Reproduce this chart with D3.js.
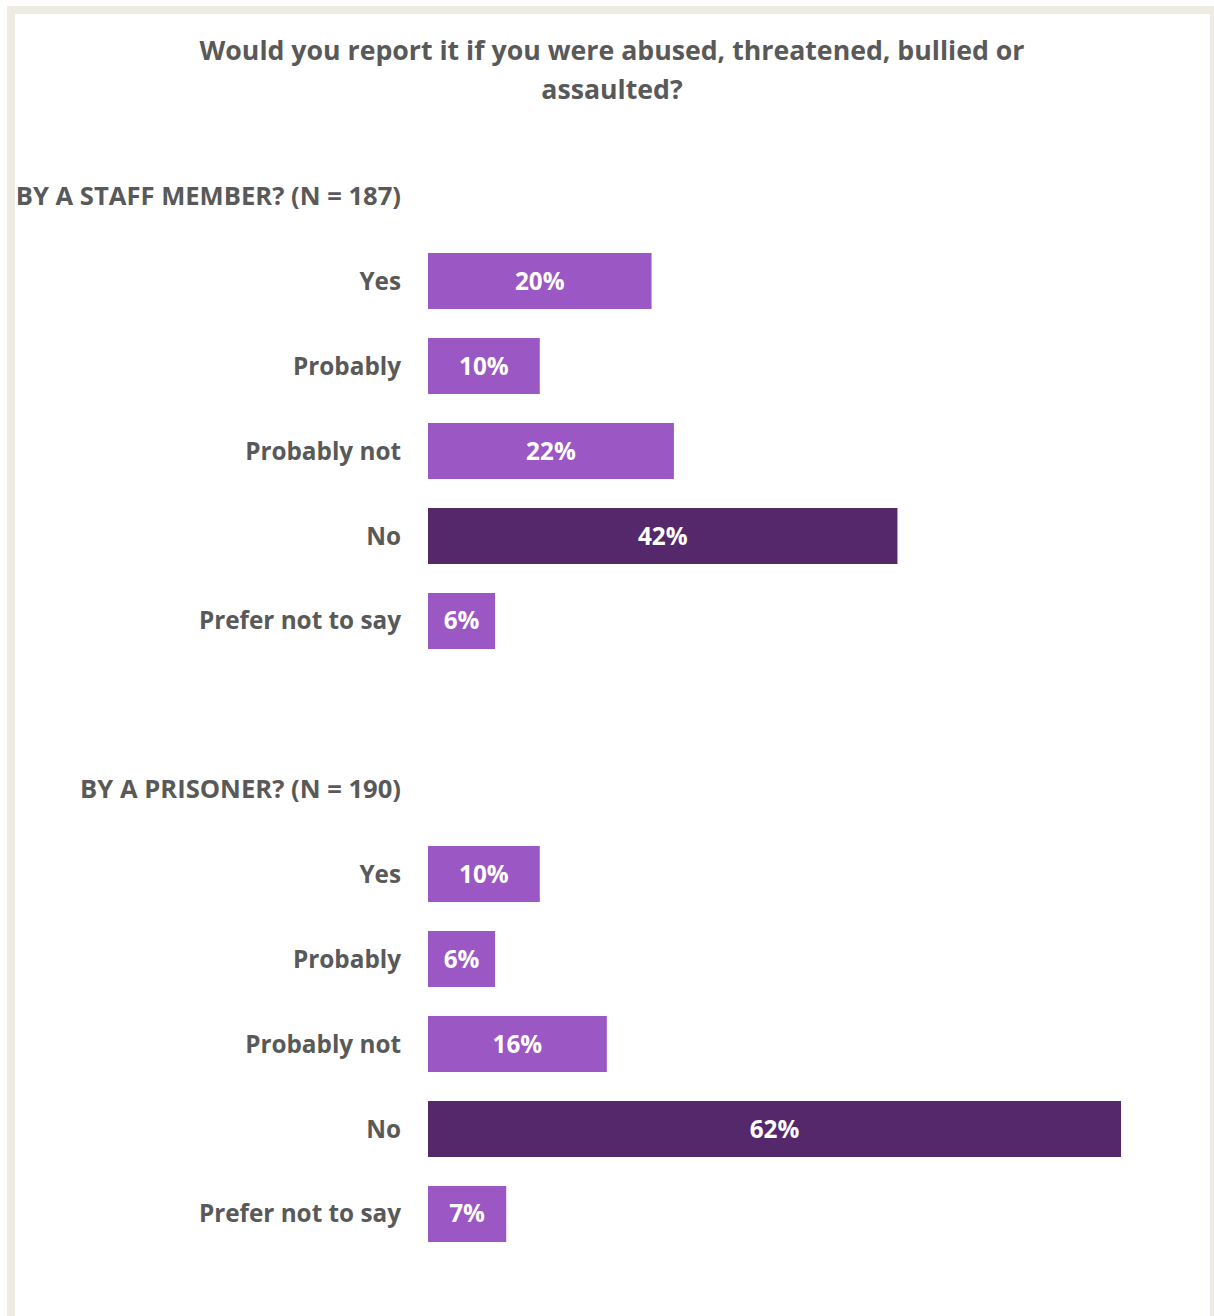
<!DOCTYPE html>
<html>
<head>
<meta charset="utf-8">
<script src="https://cdn.jsdelivr.net/npm/d3@7/dist/d3.min.js"></script>
<style>
  html, body { margin: 0; padding: 0; background: #ffffff; }
  svg { display: block; }
</style>
</head>
<body>
<script>
// Survey answers, in percent
const answers = ["Yes", "Probably", "Probably not", "No", "Prefer not to say"];
const staffValues = [20, 10, 22, 42, 6];
const prisonerValues = [10, 6, 16, 62, 7];
const titleLines = ["Would you report it if you were abused, threatened, bullied or", "assaulted?"];
const staffHeading = "BY A STAFF MEMBER? (N = 187)";
const prisonerHeading = "BY A PRISONER? (N = 190)";

const W = 1214, H = 1316;
const FONT = "'Open Sans', Lato, sans-serif";
const GREY = "#595959";
const LIGHT = "#9B57C4";
const DARK = "#55286C";

const svg = d3.select("body").append("svg")
  .attr("width", W).attr("height", H);

// frame
svg.append("rect")
  .attr("x", 11).attr("y", 10)
  .attr("width", 1203).attr("height", 1330)
  .attr("fill", "#ffffff")
  .attr("stroke", "#EEEBE2").attr("stroke-width", 8);

// title
svg.append("g").selectAll("text").data(titleLines).join("text")
  .attr("x", 612).attr("y", (d, i) => 60 + i * 39)
  .attr("text-anchor", "middle")
  .attr("font-family", FONT).attr("font-weight", 700)
  .attr("font-size", 26.7).attr("fill", GREY)
  .text(d => d);

const x = d3.scaleLinear().domain([0, 62]).range([428, 1121]);

function panel(heading, headingY, values, rangeTop) {
  const g = svg.append("g");
  g.append("text")
    .attr("x", 401).attr("y", headingY)
    .attr("text-anchor", "end")
    .attr("font-family", FONT).attr("font-weight", 700)
    .attr("font-size", 25.6).attr("fill", GREY)
    .text(heading);

  const y = d3.scaleBand().domain(answers)
    .range([rangeTop, rangeTop + 425])
    .paddingInner(0.341).paddingOuter(0.1706);

  const data = answers.map((a, i) => ({ a, v: values[i] }));

  g.selectAll("rect.bar").data(data).join("rect")
    .attr("class", "bar")
    .attr("x", x(0))
    .attr("y", d => y(d.a))
    .attr("width", d => x(d.v) - x(0))
    .attr("height", y.bandwidth())
    .attr("fill", d => d.a === "No" ? DARK : LIGHT);

  g.selectAll("text.cat").data(data).join("text")
    .attr("class", "cat")
    .attr("x", 401)
    .attr("y", d => y(d.a) + y.bandwidth() / 2)
    .attr("dy", "0.35em")
    .attr("text-anchor", "end")
    .attr("font-family", FONT).attr("font-weight", 700)
    .attr("font-size", 24.3).attr("fill", GREY)
    .text(d => d.a);

  g.selectAll("text.val").data(data).join("text")
    .attr("class", "val")
    .attr("x", d => (x(0) + x(d.v)) / 2)
    .attr("y", d => y(d.a) + y.bandwidth() / 2)
    .attr("dy", "0.35em")
    .attr("text-anchor", "middle")
    .attr("font-family", FONT).attr("font-weight", 700)
    .attr("font-size", 24.3).attr("fill", "#ffffff")
    .text(d => d.v + "%");
}

panel(staffHeading, 205, staffValues, 238.5);
panel(prisonerHeading, 798, prisonerValues, 831.5);
</script>
</body>
</html>
